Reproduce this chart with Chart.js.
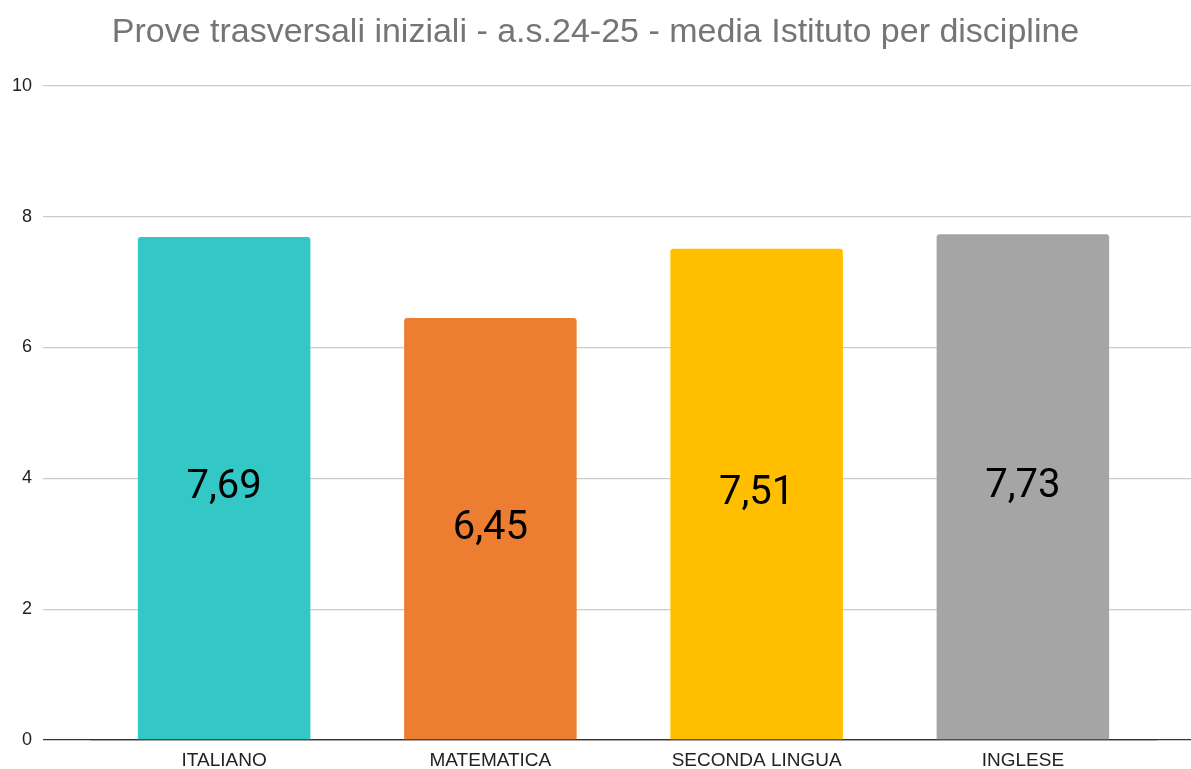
<!DOCTYPE html>
<html>
<head>
<meta charset="utf-8">
<script src="https://cdn.jsdelivr.net/npm/chart.js@4.4.1/dist/chart.umd.min.js"></script>
<style>
  html, body { margin: 0; padding: 0; background: #ffffff; }
  #wrap { width: 1191px; height: 769px; position: relative; }
</style>
</head>
<body>
<div id="wrap"><canvas id="c"></canvas></div>
<script>
const titleText = "Prove trasversali iniziali - a.s.24-25 - media Istituto per discipline";
const categories = ["ITALIANO", "MATEMATICA", "SECONDA LINGUA", "INGLESE"];
const values = [7.69, 6.45, 7.51, 7.73];
const valueLabels = ["7,69", "6,45", "7,51", "7,73"];
const barColors = ["#33c8c6", "#ed7d31", "#ffbf00", "#a5a5a5"];
const yTicks = [0, 2, 4, 6, 8, 10];

const gridColor = (ctx) => (ctx.tick && ctx.tick.value === 0) ? "#333333" : "#cccccc";

const valueLabelPlugin = {
  id: "valueLabels",
  afterDatasetsDraw(chart) {
    const ctx = chart.ctx;
    const meta = chart.getDatasetMeta(0);
    ctx.save();
    ctx.font = "40px Roboto";
    ctx.fillStyle = "#000000";
    ctx.textAlign = "center";
    ctx.textBaseline = "middle";
    meta.data.forEach((bar, i) => {
      const p = bar.getProps(["x", "y", "base"], true);
      ctx.fillText(valueLabels[i], p.x, (p.y + p.base) / 2);
    });
    ctx.restore();
  }
};

new Chart(document.getElementById("c"), {
  type: "bar",
  data: {
    labels: categories,
    datasets: [{
      data: values,
      backgroundColor: barColors,
      borderWidth: 0,
      borderRadius: { topLeft: 3, topRight: 3, bottomLeft: 0, bottomRight: 0 },
      borderSkipped: "start",
      barPercentage: 0.648,
      categoryPercentage: 1.0
    }]
  },
  options: {
    responsive: true,
    maintainAspectRatio: false,
    animation: false,
    devicePixelRatio: 1,
    layout: { padding: { left: 0, right: 0, top: 0, bottom: 0 } },
    plugins: {
      legend: { display: false },
      tooltip: { enabled: false },
      title: {
        display: true,
        text: titleText,
        color: "#757575",
        font: { family: "Liberation Sans, Arial", size: 34, weight: "normal" },
        padding: { top: 12, bottom: 33 }
      }
    },
    scales: {
      x: {
        type: "category",
        offset: true,
        grid: { display: false, drawTicks: false },
        border: { display: true, color: "#333333", width: 1.3 },
        ticks: {
          color: "#222222",
          font: { family: "Liberation Sans, Arial", size: 19 },
          padding: 9,
          maxRotation: 0,
          autoSkip: false
        },
        afterFit(scale) { scale.height = 29; }
      },
      y: {
        position: "left",
        min: 0,
        max: 10,
        afterBuildTicks(scale) { scale.ticks = yTicks.map(v => ({ value: v })); },
        grid: { color: gridColor, lineWidth: 1.3, tickLength: 48, drawTicks: true },
        border: { display: false },
        ticks: {
          color: "#222222",
          font: { family: "Liberation Sans, Arial", size: 18 },
          padding: 11
        },
        afterFit(scale) { scale.width = 91; }
      },
      y2: {
        position: "right",
        min: 0,
        max: 10,
        afterBuildTicks(scale) { scale.ticks = yTicks.map(v => ({ value: v })); },
        grid: { color: gridColor, lineWidth: 1.3, tickLength: 35, drawTicks: true, drawOnChartArea: false },
        border: { display: false },
        ticks: { display: false },
        afterFit(scale) { scale.width = 35; }
      }
    }
  },
  plugins: [valueLabelPlugin]
});
</script>
</body>
</html>
